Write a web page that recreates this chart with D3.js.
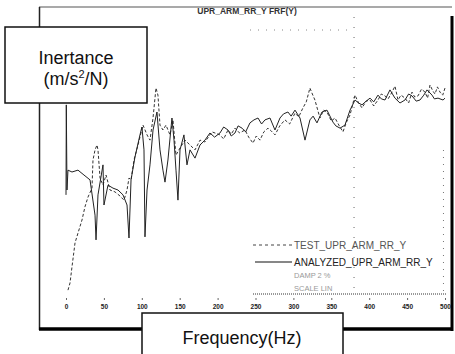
<!DOCTYPE html>
<html>
<head>
<meta charset="utf-8">
<script src="https://cdn.jsdelivr.net/npm/d3@7"></script>
<style>
  body { margin: 0; background: #fff; }
  svg { display: block; }
  text { font-family: "Liberation Sans", Arial, sans-serif; }
</style>
</head>
<body>
<div id="chart"></div>
<script>
// frequency ticks (Hz)
const freqTicks = [0, 50, 100, 150, 200, 250, 300, 350, 400, 450, 500];

// measured (test) FRF, inertance in dB
const testFreq = [2.6, 5.3, 7.9, 11.9, 15.8, 21.1, 25, 29, 34.3, 35.6, 38.3, 40.9, 42.2, 44.9, 48.8, 52.8,
  58, 64.6, 71.2, 76.5, 80.5, 83.1, 85.8, 89.7, 95, 98.9, 101.6, 106.9, 110.8, 114.8, 118.7, 121.3,
  124, 127.9, 131.9, 137.2, 141.1, 145.1, 150.4, 157, 163.6, 170.2, 176.8, 183.3, 192.6, 203.1,
  208, 213.7, 218, 222.9, 229, 236.1, 241, 246.7, 251, 255.9, 261, 266.5, 271, 275.7, 282, 288.9,
  295, 302.1, 307, 312.6, 317, 321.8, 325, 328.4, 335, 340, 344.3, 350, 354.9, 360, 365.4, 370,
  374.7, 381.3, 386, 390.5, 396, 401.1, 406, 411.6, 416, 420.8, 425, 430.1, 434, 438, 442, 447.2,
  452, 456.5, 460, 464.4, 469, 473.6, 477, 480.2, 484, 486.8, 490, 493.4, 497, 500];
const testDb = [-34.7, -32.8, -28.5, -22.1, -19.5, -16, -12.5, -9.9, -7.5, 0, 2.7, 4, 2.7, -4.8, -6.7, -4,
  -8, -8.5, -9.6, -10.7, -8, -4.8, -5.3, 0, 4, 7.2, 9.3, 6.7, 5.3, 11.2, 19.2, 17.3,
  9.3, 8, 9.3, 6.7, 10.7, 1.3, 3.2, 5.3, 4, 2.7, 5.3, 4.8, 7.5, 6.7,
  5.6, 8, 6.9, 8.5, 7.2, 8, 6.1, 4.5, 6.4, 5.3, 7.5, 8.5, 7.7, 6.7, 9.1, 10.7,
  9.6, 12.5, 11.5, 13.9, 15.5, 19.2, 17.6, 16, 11.2, 13.3, 12.8, 10.4, 11.2, 9.3, 7.5, 10.1,
  12, 17.3, 15.2, 13.9, 15.7, 16, 14.4, 16, 17.6, 17.1, 16.3, 18.1, 19.7, 16, 17.3, 16.5,
  15.2, 18.1, 16.8, 17.1, 18.9, 18.1, 16.5, 20, 18.4, 17.6, 19.5, 18.1, 17.3, 19.2];

// analysis FRF, inertance in dB
const anaFreq = [0, 0.4, 1.3, 2.6, 7.9, 15.8, 23.7, 31.7, 38.3, 39.6, 42.2, 48.8, 50.1, 55.4, 62, 68.6,
  75.2, 80.5, 83.1, 85.8, 91, 97.6, 100.2, 102.9, 104.2, 106.9, 110.8, 114.8, 120, 124, 127.9,
  130.6, 134.5, 139.8, 142.5, 145.1, 147.7, 150.4, 155.6, 159.6, 163.6, 170.2, 176.8, 183.3,
  189.9, 196, 203.1, 208, 213.7, 218, 222.9, 227, 232.2, 237, 242.7, 248, 253.3, 258, 262.5,
  269.1, 275.7, 282.3, 287, 292.8, 297, 302.1, 308.7, 315.3, 321.8, 326, 331.1, 337.7, 344.3,
  352.2, 356, 361.5, 368, 374.7, 381.3, 386, 390.5, 396, 401.1, 406, 411.6, 416, 420.8, 427.4,
  434, 440.6, 447.2, 452, 456.5, 462, 467, 472, 476.3, 482.9, 486, 490.8, 497.4, 500];
const anaDb = [-9.3, 14.7, -8, -2.7, -3.2, -2.7, -4, -5.3, -14.7, -21.3, -9.3, -1.3, -12, -6.7, -7.5, -8,
  -9.3, -12, -20.8, -5.3, 0.8, 6.7, 8.8, 2.7, -20.5, -8, -1.3, 8, 12.8, 2.7, -2.7,
  -5.9, 0, 11.2, 5.3, -2.7, -10.7, 2.7, 6.7, -1.3, 2.7, 0.5, 4, 5.3,
  7.2, 6.1, 7.2, 8.8, 8, 6.4, 7.2, 9.1, 8.5, 7.5, 9.9, 10.7, 11.2, 9.6, 10.7,
  11.2, 8, 11.2, 12.3, 12.8, 11.7, 13.3, 11.2, 5.3, 10.7, 11.7, 9.9, 12.8, 13.3,
  10.1, 9.1, 8.5, 9.3, 13.3, 16, 15.2, 14.7, 15.7, 16.5, 15.5, 17.3, 16.3, 16, 18.7,
  16.5, 15.2, 16, 17.6, 17.1, 15.7, 16, 17.3, 18.7, 17.3, 16.3, 16.5, 16, 16.5];

const legendLabels = ["TEST_UPR_ARM_RR_Y", "ANALYZED_UPR_ARM_RR_Y", "DAMP 2 %", "SCALE LIN"];
const yLabelLines = ["Inertance", "(m/s", "2", "/N)"];
const xLabel = "Frequency(Hz)";
const titleText = "UPR_ARM_RR_Y FRF(Y)";

const W = 455, H = 354;
const svg = d3.select("#chart").append("svg").attr("width", W).attr("height", H);

const x = d3.scaleLinear().domain([0, 500]).range([66, 445]);
const y = d3.scaleLinear().domain([-40, 40]).range([310, 10]);

// outer frame
svg.append("line").attr("x1", 39).attr("x2", 452).attr("y1", 7).attr("y2", 7)
  .attr("stroke", "#555").attr("stroke-width", 1.2);
svg.append("line").attr("x1", 39.5).attr("x2", 39.5).attr("y1", 7).attr("y2", 330)
  .attr("stroke", "#222").attr("stroke-width", 1.5);
svg.append("line").attr("x1", 452).attr("x2", 452).attr("y1", 16).attr("y2", 331)
  .attr("stroke", "#000").attr("stroke-width", 3);
svg.append("line").attr("x1", 39).attr("x2", 453).attr("y1", 329).attr("y2", 329)
  .attr("stroke", "#000").attr("stroke-width", 3.5);

svg.append("text").attr("x", 247).attr("y", 14).attr("text-anchor", "middle")
  .attr("font-size", 8.5).attr("font-weight", "bold").attr("fill", "#333")
  .text(titleText);

// faint grid remnants
svg.append("line").attr("x1", x(380)).attr("x2", x(380)).attr("y1", 17).attr("y2", 294)
  .attr("stroke", "#666").attr("stroke-dasharray", "1,9");
svg.append("line").attr("x1", 250).attr("x2", x(380)).attr("y1", 30).attr("y2", 30)
  .attr("stroke", "#888").attr("stroke-dasharray", "1,7");
svg.append("line").attr("x1", x(498)).attr("x2", x(498)).attr("y1", 150).attr("y2", 292)
  .attr("stroke", "#777").attr("stroke-dasharray", "1,6");

// x axis
const xAxis = d3.axisBottom(x).tickValues(freqTicks).tickSize(2).tickPadding(4);
const gx = svg.append("g").attr("transform", "translate(0,298)").call(xAxis);
gx.select(".domain").remove();
gx.selectAll(".tick line").attr("stroke", "#666");
gx.selectAll(".tick text").attr("font-size", 6.5).attr("font-weight", "bold")
  .attr("fill", "#222").style("font-family", "'Liberation Sans', Arial, sans-serif");

// curves
svg.append("clipPath").attr("id", "plotclip").append("rect")
  .attr("x", 41).attr("y", 8).attr("width", 409).attr("height", 290);

const line = d3.line().x(d => x(d[0])).y(d => y(d[1]));
const plot = svg.append("g").attr("clip-path", "url(#plotclip)");

plot.append("path").datum(testFreq.map((f, i) => [f, testDb[i]]))
  .attr("d", line).attr("fill", "none")
  .attr("stroke", "#333").attr("stroke-width", 1).attr("stroke-dasharray", "3,2");
plot.append("path").datum(anaFreq.map((f, i) => [f, anaDb[i]]))
  .attr("d", line).attr("fill", "none")
  .attr("stroke", "#222").attr("stroke-width", 1);

// legend
const lg = svg.append("g");
const rowsY = [245, 262, 274, 287];
lg.append("line").attr("x1", 253).attr("x2", 292).attr("y1", rowsY[0]).attr("y2", rowsY[0])
  .attr("stroke", "#444").attr("stroke-dasharray", "3,3");
lg.append("line").attr("x1", 255).attr("x2", 292).attr("y1", rowsY[1]).attr("y2", rowsY[1])
  .attr("stroke", "#111").attr("stroke-width", 1.2);
legendLabels.forEach((t, i) => {
  lg.append("text").attr("x", 294).attr("y", rowsY[i] + 3.5)
    .attr("font-size", i < 2 ? 10 : 7.5)
    .attr("fill", i === 1 ? "#222" : (i === 0 ? "#555" : "#999"))
    .text(t);
});
lg.append("line").attr("x1", 253).attr("x2", 447).attr("y1", 294).attr("y2", 294)
  .attr("stroke", "#333").attr("stroke-dasharray", "1,1");

// label boxes
svg.append("rect").attr("x", 5).attr("y", 27).attr("width", 142).attr("height", 76)
  .attr("fill", "#fff").attr("stroke", "#111").attr("stroke-width", 1.5);
svg.append("text").attr("x", 76).attr("y", 64).attr("text-anchor", "middle")
  .attr("font-size", 18).attr("fill", "#111").text(yLabelLines[0]);
const t2 = svg.append("text").attr("x", 76).attr("y", 85).attr("text-anchor", "middle")
  .attr("font-size", 18).attr("fill", "#111");
t2.append("tspan").text(yLabelLines[1]);
t2.append("tspan").attr("font-size", 11).attr("dy", -7).text(yLabelLines[2]);
t2.append("tspan").attr("dy", 7).text(yLabelLines[3]);

svg.append("rect").attr("x", 142).attr("y", 313).attr("width", 201).attr("height", 50)
  .attr("fill", "#fff").attr("stroke", "#111").attr("stroke-width", 1.5);
svg.append("text").attr("x", 242).attr("y", 344).attr("text-anchor", "middle")
  .attr("font-size", 18).attr("fill", "#111").text(xLabel);
</script>
</body>
</html>
